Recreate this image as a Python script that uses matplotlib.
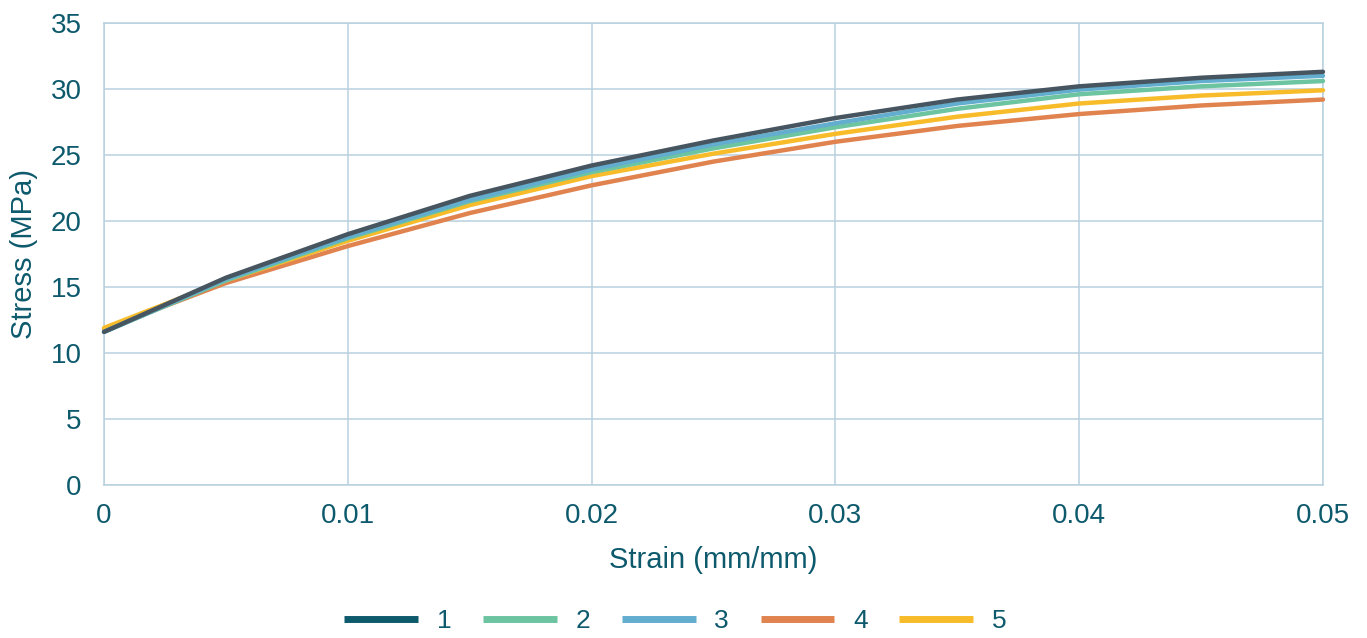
import matplotlib
matplotlib.use("Agg")
import matplotlib.pyplot as plt
from matplotlib.lines import Line2D

plt.rcParams['font.family'] = ['Liberation Sans', 'DejaVu Sans']

# strain (mm/mm) and stress (MPa)
strain = [0, 0.005, 0.01, 0.015, 0.02, 0.025, 0.03, 0.035, 0.04, 0.045, 0.05]
stress_1 = [11.6, 15.7, 19.0, 21.9, 24.2, 26.1, 27.8, 29.2, 30.2, 30.85, 31.3]
stress_2 = [11.6, 15.5, 18.7, 21.5, 23.7, 25.5, 27.1, 28.5, 29.6, 30.2, 30.6]
stress_3 = [11.6, 15.6, 18.8, 21.6, 23.9, 25.8, 27.4, 28.9, 29.95, 30.6, 31.0]
stress_4 = [11.8, 15.3, 18.1, 20.6, 22.7, 24.5, 26.0, 27.2, 28.1, 28.75, 29.2]
stress_5 = [11.9, 15.5, 18.5, 21.2, 23.4, 25.1, 26.6, 27.9, 28.9, 29.5, 29.9]
labels = ["1", "2", "3", "4", "5"]

text_c = "#0e5a6d"
grid_c = "#b9d1df"
# plotted line colours, and the colours shown in the legend
line_colors = ["#46555f", "#6cc4a0", "#63adcf", "#e0834f", "#f8bc2a"]
legend_colors = ["#0e5a6d", "#6cc4a0", "#63adcf", "#e0834f", "#f8bc2a"]

fig = plt.figure(figsize=(13.67, 6.38), dpi=100)
ax = fig.add_axes([0.0761, 0.2398, 0.8917, 0.7242])

series = [stress_1, stress_2, stress_3, stress_4, stress_5]
zorders = [6, 4, 5, 3, 3]  # dark curve on top, orange/yellow below
for i in range(5):
    ax.plot(strain, series[i], color=line_colors[i], lw=3.2,
            solid_capstyle='round', solid_joinstyle='round',
            clip_on=False, zorder=zorders[i])

ax.set_xlim(0, 0.05)
ax.set_ylim(0, 35)
ax.set_xticks([0, 0.01, 0.02, 0.03, 0.04, 0.05])
ax.set_xticklabels(["0", "0.01", "0.02", "0.03", "0.04", "0.05"])
ax.set_yticks(range(0, 36, 5))

ax.grid(True, color=grid_c, lw=1.1)
ax.set_axisbelow(True)
for s in ax.spines.values():
    s.set_color(grid_c)
    s.set_linewidth(1.1)

ax.tick_params(length=0, labelsize=20, colors=text_c)
ax.tick_params(axis='y', pad=16)
ax.tick_params(axis='x', pad=13)

ax.set_xlabel("Strain (mm/mm)", fontsize=21, color=text_c, labelpad=12)
ax.set_ylabel("Stress (MPa)", fontsize=21, color=text_c, labelpad=9)

handles = [Line2D([], [], color=c, lw=5, solid_capstyle='butt') for c in legend_colors]
leg = fig.legend(handles, labels, loc='center', bbox_to_anchor=(0.494, 0.027),
                 ncol=5, frameon=False, fontsize=19, handlelength=2.8,
                 handletextpad=0.7, columnspacing=1.2, borderpad=0.1)
for t in leg.get_texts():
    t.set_color(text_c)

fig.savefig("out.png", dpi=100)
